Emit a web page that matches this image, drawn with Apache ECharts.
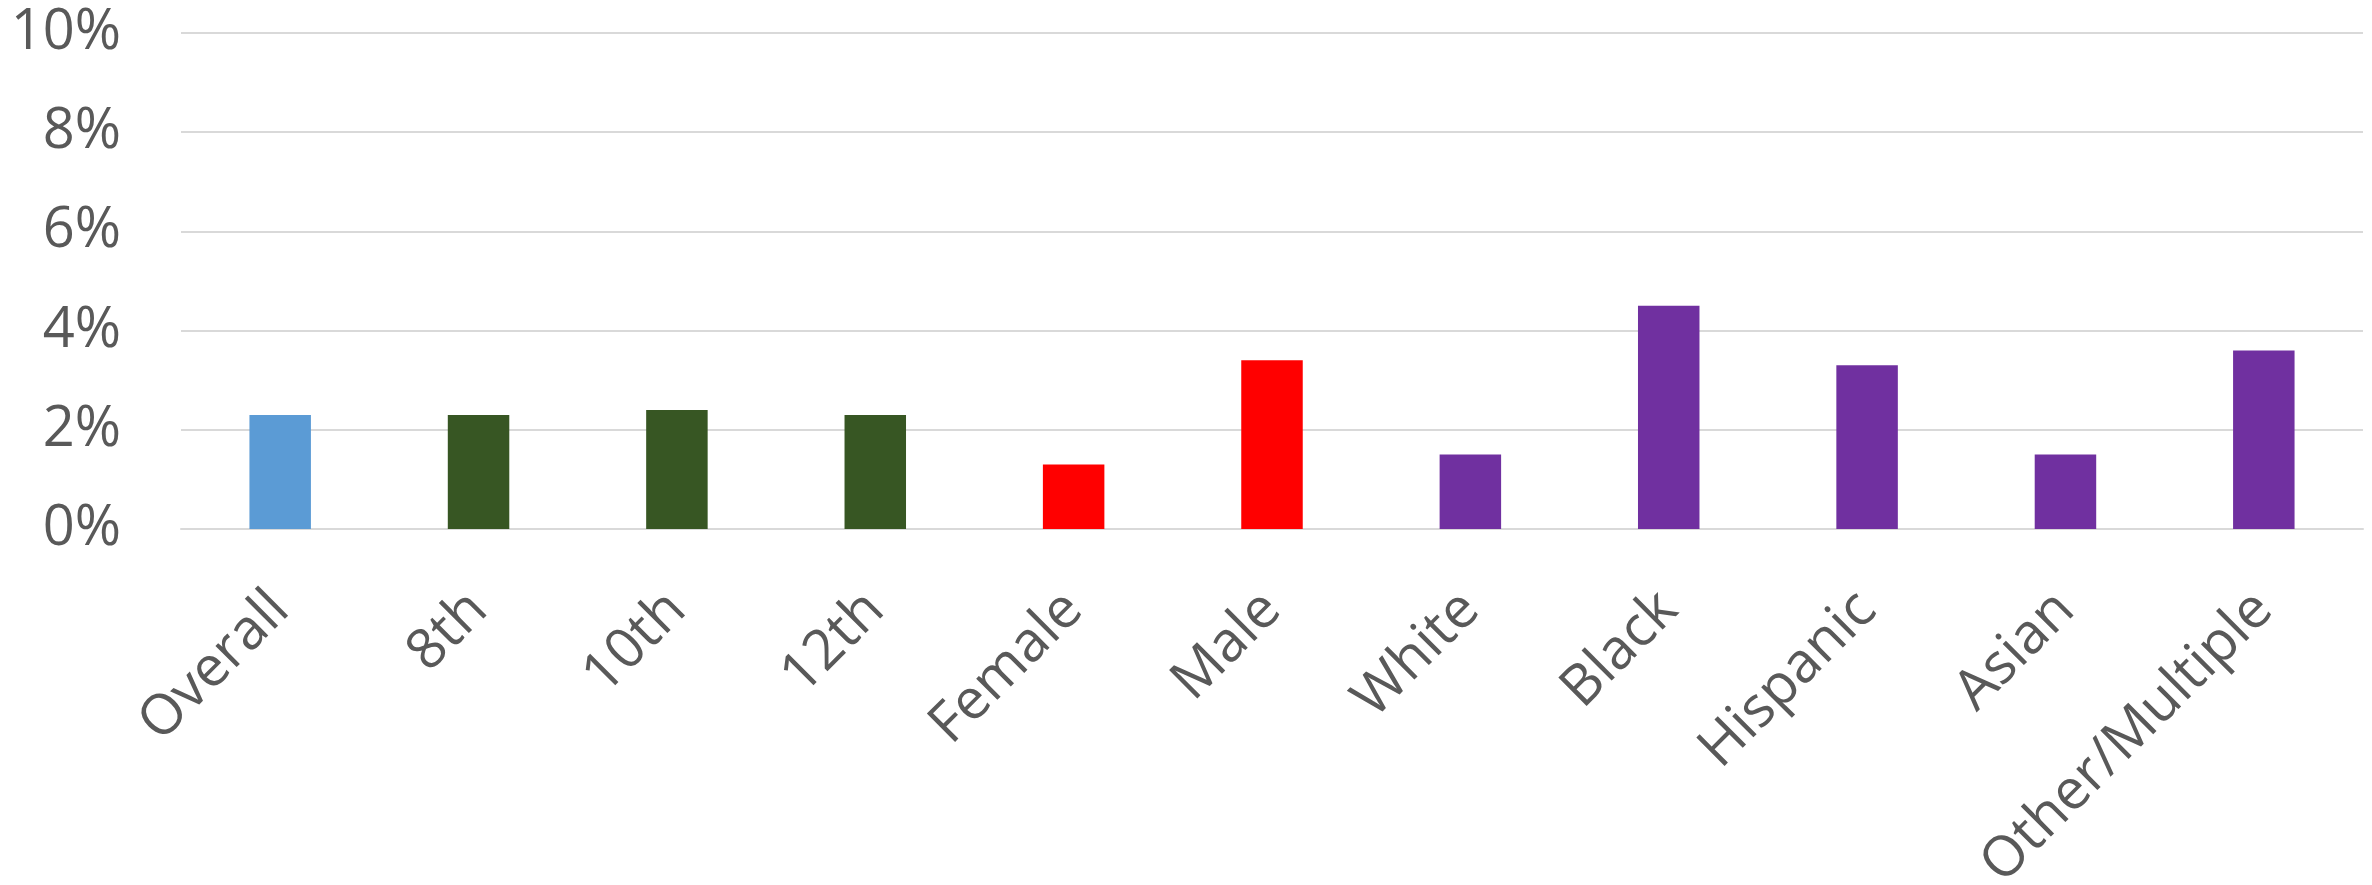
<!DOCTYPE html>
<html>
<head>
<meta charset="utf-8">
<script src="https://cdn.jsdelivr.net/npm/echarts@6/dist/echarts.min.js"></script>
<style>html,body{margin:0;padding:0;background:#fff}#c{width:2372px;height:885px}</style>
</head>
<body>
<div id="c"></div>
<script>
const categories = ['Overall','8th','10th','12th','Female','Male','White','Black','Hispanic','Asian','Other/Multiple'];
const values = [2.3, 2.3, 2.4, 2.3, 1.3, 3.4, 1.5, 4.5, 3.3, 1.5, 3.6];
const groups = ['overall','grade','grade','grade','sex','sex','race','race','race','race','race'];
const yTicks = [0, 2, 4, 6, 8, 10];

const groupColors = {overall:'#5B9BD5', grade:'#375623', sex:'#FF0000', race:'#7030A0'};
const chart = echarts.init(document.getElementById('c'));
chart.setOption({
  animation: false,
  grid: {left: 181, right: 9, top: 33, bottom: 356, containLabel: false, outerBoundsMode: 'none'},
  xAxis: {
    type: 'category',
    data: categories,
    axisLine: {lineStyle: {color: '#D9D9D9', width: 2}},
    axisTick: {show: false},
    axisLabel: {rotate: 45, interval: 0, margin: 72, color: '#595959', fontSize: 56, fontFamily: 'Open Sans'}
  },
  yAxis: {
    type: 'value',
    min: yTicks[0], max: yTicks[yTicks.length-1], interval: 2,
    axisLine: {show: false},
    axisTick: {show: false},
    splitLine: {lineStyle: {color: '#D9D9D9', width: 2}},
    axisLabel: {margin: 60, color: '#595959', fontSize: 56, fontFamily: 'Open Sans', formatter: v => v + '%'}
  },
  series: [{
    type: 'bar',
    barWidth: '31%',
    data: values.map((v, i) => ({value: v, itemStyle: {color: groupColors[groups[i]]}}))
  }]
});
</script>
</body>
</html>
